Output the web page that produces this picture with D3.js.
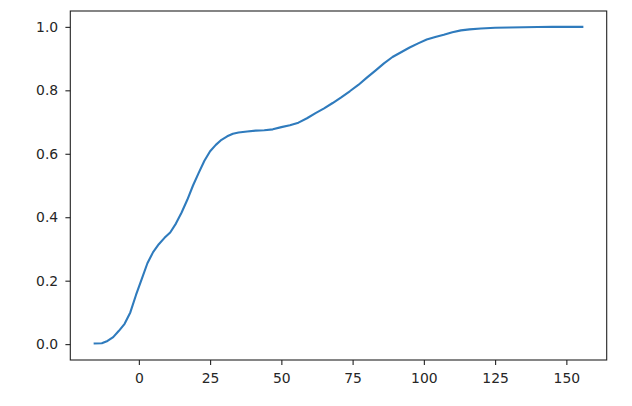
<!DOCTYPE html>
<html><head><meta charset="utf-8">
<script src="https://cdn.jsdelivr.net/npm/d3@7"></script>
<style>
html,body{margin:0;padding:0;background:#fff;}
svg{display:block;}
</style>
</head><body>
<svg id="chart" width="632" height="406"></svg>
<script>
const xValues = [-15.5,-13,-11,-9,-7,-5,-3,-1,1,3,5,7,9,11,13,15,17,19,21,23,25,27,29,31,33,35,38,41,44,47,50,53,56,59,62,65,68,71,74,77,80,83,86,89,92,95,98,101,104,107,110,113,116,120,125,130,135,140,145,150,155.6];
const yValues = [0.002,0.003,0.010,0.022,0.042,0.064,0.100,0.155,0.205,0.255,0.290,0.315,0.335,0.352,0.380,0.415,0.455,0.500,0.540,0.578,0.608,0.628,0.644,0.655,0.663,0.667,0.670,0.673,0.674,0.677,0.684,0.690,0.698,0.712,0.728,0.743,0.760,0.778,0.797,0.817,0.840,0.862,0.885,0.905,0.920,0.935,0.948,0.960,0.968,0.975,0.983,0.989,0.992,0.995,0.997,0.998,0.999,0.9995,1.0,1.0,1.0];
const xTicks = [0,25,50,75,100,125,150];
const yTicks = [0.0,0.2,0.4,0.6,0.8,1.0];

const svg = d3.select("#chart");
const L = 70.3, R = 606.7, T = 11, B = 360;
const xMin = d3.min(xValues), xMax = d3.max(xValues);
const xPad = (xMax - xMin) * 0.05;
const x = d3.scaleLinear().domain([xMin - xPad, xMax + xPad]).range([L, R]);
const y = d3.scaleLinear().domain([-0.05, 1.05]).range([B, T]);

const data = xValues.map((v, i) => [v, yValues[i]]);

svg.append("path")
  .datum(data)
  .attr("fill", "none")
  .attr("stroke", "#2f7bbd")
  .attr("stroke-width", 2.1)
  .attr("stroke-linejoin", "round")
  .attr("stroke-linecap", "square")
  .attr("d", d3.line().x(d => x(d[0])).y(d => y(d[1])));

const fontFamily = "DejaVu Sans";
const xAxis = svg.append("g")
  .attr("transform", `translate(0,${B})`)
  .call(d3.axisBottom(x).tickValues(xTicks).tickFormat(d3.format("d")).tickSize(4.9).tickPadding(7.8));
const yAxis = svg.append("g")
  .attr("transform", `translate(${L},0)`)
  .call(d3.axisLeft(y).tickValues(yTicks).tickFormat(d3.format(".1f")).tickSize(4.9).tickPadding(7.2));

[xAxis, yAxis].forEach(g => {
  g.select(".domain").remove();
  g.selectAll(".tick line").attr("stroke", "#222").attr("stroke-width", 1.1);
  g.selectAll(".tick text").attr("fill", "#262626").style("font-family", fontFamily).style("font-size", "13.9px");
});

svg.append("rect")
  .attr("x", L).attr("y", T)
  .attr("width", R - L).attr("height", B - T)
  .attr("fill", "none")
  .attr("stroke", "#222")
  .attr("stroke-width", 1.1);
</script>
</body></html>
